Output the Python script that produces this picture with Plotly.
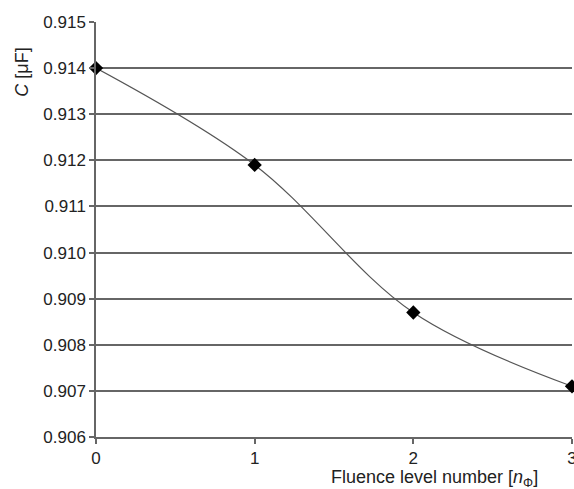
import plotly.graph_objects as go

fluence_level = [0, 1, 2, 3]
capacitance = [0.9140, 0.9119, 0.9087, 0.9071]
y_ticks = [0.906, 0.907, 0.908, 0.909, 0.910, 0.911, 0.912, 0.913, 0.914, 0.915]
x_ticks = [0, 1, 2, 3]

fig = go.Figure()
fig.add_trace(go.Scatter(
    x=fluence_level, y=capacitance,
    mode="lines+markers",
    line=dict(shape="spline", color="#555555", width=1.2),
    marker=dict(symbol="diamond", size=11, color="black"),
    cliponaxis=False,
    showlegend=False,
))

font = dict(family="Liberation Sans, Arial, sans-serif", size=17, color="#222222")
title_font = dict(family="Liberation Sans, Arial, sans-serif", size=18, color="#222222")

fig.update_layout(
    width=574, height=489,
    margin=dict(l=96, r=2, t=22, b=52),
    paper_bgcolor="white", plot_bgcolor="white",
    font=font,
    xaxis=dict(
        range=[0, 3], tickvals=x_ticks, ticktext=[str(t) for t in x_ticks],
        showgrid=False, zeroline=False,
        showline=True, linecolor="#666666", linewidth=1.5,
        ticks="outside", ticklen=5, tickcolor="#666666", tickwidth=1.5,
        tickfont=font, automargin=False, ticklabeloverflow="allow",
    ),
    yaxis=dict(
        range=[0.906, 0.915], tickvals=y_ticks,
        ticktext=[f"{t:.3f}" for t in y_ticks],
        showgrid=True, gridcolor="#666666", gridwidth=1.5,
        zeroline=False,
        showline=True, linecolor="#666666", linewidth=1.5,
        ticks="outside", ticklen=5, tickcolor="#666666", tickwidth=1.5,
        tickfont=font, automargin=False,
    ),
    annotations=[
        dict(text="<i>C</i> [μF]", xref="paper", yref="y", x=0, y=0.9139,
             xshift=-74, textangle=-90, showarrow=False, font=title_font,
             xanchor="center", yanchor="middle"),
        dict(text="Fluence level number [<i>n</i><sub>Φ</sub>]", xref="paper", yref="paper",
             x=1, y=0, xshift=-32, yshift=-28, showarrow=False, font=title_font,
             xanchor="right", yanchor="top"),
    ],
)

fig.write_html(
    "out.html",
    config={"displayModeBar": False},
    post_script="document.body.style.margin='0';document.body.style.overflow='hidden';",
)
